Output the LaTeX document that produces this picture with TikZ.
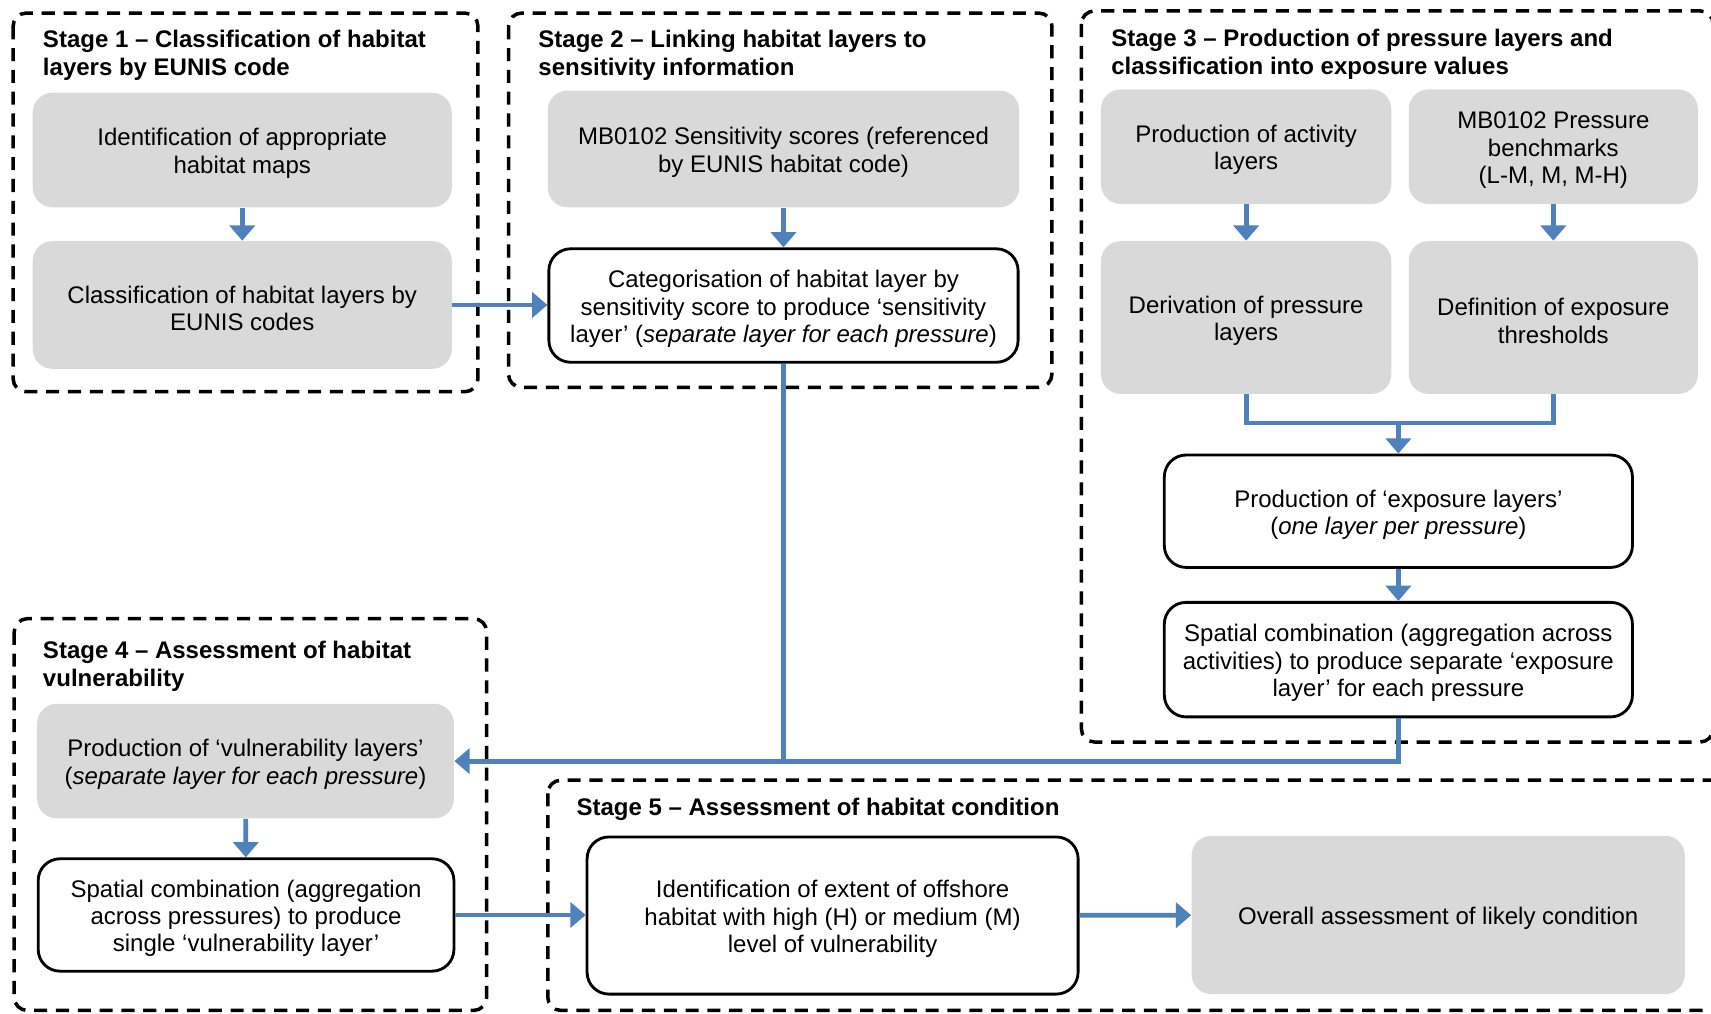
\documentclass[tikz,border=0pt]{standalone}
\usepackage{fontspec}
\setmainfont{Liberation Sans}
\usetikzlibrary{arrows.meta,calc}
\definecolor{flowblue}{HTML}{4F81BD}
\definecolor{boxgray}{HTML}{D9D9D9}
% a tall strut on the first line sets a box's text a little lower
\newcommand\txtlift{\rule{0pt}{11pt}}
\begin{document}
\begin{tikzpicture}[x=0.5pt,y=-0.5pt,
  txt/.style={font=\fontsize{11}{12.5}\selectfont, align=center, text=black},
  graybox/.style={txt, fill=boxgray, rounded corners=9pt, inner sep=0pt},
  whitebox/.style={txt, draw=black, line width=1.3pt, fill=white, rounded corners=10pt, inner sep=0pt},
  frame/.style={draw=black, line width=1.6pt, dash pattern=on 6pt off 4pt, rounded corners=6pt},
  title/.style={font=\bfseries\fontsize{11}{13}\selectfont, align=left, anchor=north west, inner sep=0pt},
  flow/.style={draw=flowblue, line width=2.2pt, -{Triangle[length=7pt,width=11.5pt]}},
  link/.style={draw=flowblue, line width=2.2pt},
]
\clip (0,0) rectangle (1568,929);

% stage frames
\draw[frame] (12,12) rectangle (438,359);
\draw[frame] (466,12) rectangle (964,355);
\draw[frame] (991,10) rectangle (1570,680);
\draw[frame] (13,567) rectangle (446,926);
\draw[frame] (502,715) rectangle (1600,926);

% stage titles
\node[title] (t1) at (39,27) {Stage 1 – Classification of habitat\\layers by EUNIS code};
\node[title] (t2) at (493,27) {Stage 2 – Linking habitat layers to\\sensitivity information};
\node[title] (t3) at (1018,26) {Stage 3 – Production of pressure layers and\\classification into exposure values};
\node[title] (t4) at (39,587) {Stage 4 – Assessment of habitat\\vulnerability};
\node[title] (t5) at (528,731) {Stage 5 – Assessment of habitat condition};

% stage 1
\node[graybox, minimum width=192pt, minimum height=52.5pt] (a1) at (222,137.5)
  {\txtlift Identification of appropriate\\habitat maps};
\node[graybox, minimum width=192pt, minimum height=58.5pt] (a2) at (222,279.5)
  {\txtlift Classification of habitat layers by\\EUNIS codes};

% stage 2
\node[graybox, minimum width=216pt, minimum height=53.5pt] (b1) at (718,136.5)
  {\txtlift MB0102 Sensitivity scores (referenced\\by EUNIS habitat code)};
\node[whitebox, minimum width=215pt, minimum height=52pt] (b2) at (718,280)
  {\txtlift Categorisation of habitat layer by\\sensitivity score to produce ‘sensitivity\\layer’ (\textit{separate layer for each pressure})};

% stage 3
\node[graybox, minimum width=133pt, minimum height=52.5pt] (c1) at (1142,134.5)
  {\txtlift Production of activity\\layers};
\node[graybox, minimum width=132.5pt, minimum height=52.5pt] (c2) at (1423.5,134.5)
  {\txtlift MB0102 Pressure\\benchmarks\\(L-M, M, M-H)};
\node[graybox, minimum width=133pt, minimum height=70pt] (c3) at (1142,291)
  {\txtlift Derivation of pressure\\layers};
\node[graybox, minimum width=132.5pt, minimum height=70pt] (c4) at (1423.5,291)
  {\txtlift Definition of exposure\\thresholds};
\node[whitebox, minimum width=214.5pt, minimum height=51.5pt] (e1) at (1281.5,468.5)
  {\txtlift Production of ‘exposure layers’\\(\textit{one layer per pressure})};
\node[whitebox, minimum width=214.5pt, minimum height=52.5pt] (e2) at (1281.5,604.5)
  {\txtlift Spatial combination (aggregation across\\activities) to produce separate ‘exposure\\layer’ for each pressure};

% stage 4
\node[graybox, minimum width=191pt, minimum height=52.5pt] (d1) at (225,697.5)
  {\txtlift Production of ‘vulnerability layers’\\(\textit{separate layer for each pressure})};
\node[whitebox, minimum width=190.5pt, minimum height=51.5pt] (d2) at (225.5,838.5)
  {\txtlift Spatial combination (aggregation\\across pressures) to produce\\single ‘vulnerability layer’};

% stage 5
\node[whitebox, minimum width=225pt, minimum height=72pt] (f1) at (763,839)
  {\txtlift Identification of extent of offshore\\habitat with high (H) or medium (M)\\level of vulnerability};
\node[graybox, minimum width=226pt, minimum height=72.5pt] (f2) at (1318,838.5)
  {\txtlift Overall assessment of likely condition};

% connectors
\draw[flow] (a1) -- (a2);
\draw[flow] (a2.east) -- (a2.east -| b2.west);
\draw[flow] (b1) -- (b2);
\draw[flow] (c1) -- (c3);
\draw[flow] (c2) -- (c4);
\coordinate (m) at ($(e1.north)+(0,-28)$);
\draw[link] (c3.south) |- (m) -| (c4.south);
\draw[flow] (m) -- (e1.north);
\draw[flow] (e1) -- (e2);
\draw[link] (e2.south) |- (b2.south |- d1.east);
\draw[flow] (b2.south) |- (d1.east);
\draw[flow] (d1) -- (d2);
\draw[flow] (d2.east) -- (d2.east -| f1.west);
\draw[flow] (f1) -- (f2);
\end{tikzpicture}
\end{document}
